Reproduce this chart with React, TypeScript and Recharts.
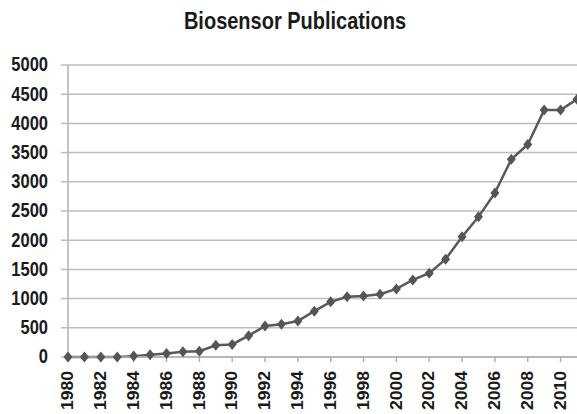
import React from 'react';
import { LineChart, Line, XAxis, YAxis, CartesianGrid } from 'recharts';

const years = [
  1980, 1981, 1982, 1983, 1984, 1985, 1986, 1987, 1988, 1989, 1990, 1991, 1992, 1993, 1994, 1995,
  1996, 1997, 1998, 1999, 2000, 2001, 2002, 2003, 2004, 2005, 2006, 2007, 2008, 2009, 2010, 2011,
];
const publications = [
  0, 0, 0, 0, 15, 40, 60, 90, 100, 200, 215, 365, 530, 560, 615, 785,
  945, 1030, 1045, 1075, 1165, 1320, 1435, 1675, 2060, 2400, 2810, 3385, 3640, 4230, 4230, 4415,
];
const yearTicks = [1980, 1982, 1984, 1986, 1988, 1990, 1992, 1994, 1996, 1998, 2000, 2002, 2004, 2006, 2008, 2010];
const valueTicks = [0, 500, 1000, 1500, 2000, 2500, 3000, 3500, 4000, 4500, 5000];

const data = years.map((year, i) => ({ year, count: publications[i] }));

const FONT = '"Liberation Sans", Arial, sans-serif';
const STRETCH = 1.19;

const YTick = (props: any) => {
  const { y, payload } = props;
  return (
    <text
      transform={`translate(48,${y}) scale(1,${STRETCH})`}
      textAnchor="end"
      dominantBaseline="central"
      fontFamily={FONT}
      fontWeight="bold"
      fontSize={16.5}
      fill="#1a1a1a"
    >
      {payload.value}
    </text>
  );
};

// rotated year labels, squeezed a little so they stay inside the picture
const XTick = (props: any) => {
  const { x, payload } = props;
  return (
    <g transform={`translate(${x},371) scale(1,1.1)`}>
      <text
        transform="rotate(-90)"
        textAnchor="end"
        dominantBaseline="central"
        fontFamily={FONT}
        fontWeight="bold"
        fontSize={16}
        fill="#1a1a1a"
      >
        {payload.value}
      </text>
    </g>
  );
};

const Diamond = (props: any) => {
  const { cx, cy } = props;
  if (cx == null || cy == null) return null;
  return (
    <polygon
      points={`${cx},${cy - 5.5} ${cx + 4.5},${cy} ${cx},${cy + 5.5} ${cx - 4.5},${cy}`}
      fill="#555555"
    />
  );
};

export default function App() {
  return (
    <div style={{ position: 'relative', width: 577, height: 414, background: '#fff' }}>
      <style>{`body{margin:0}`}</style>
      <svg width={577} height={40} style={{ position: 'absolute', left: 0, top: 0 }}>
        <text
          transform={`translate(295,29) scale(1,${STRETCH})`}
          textAnchor="middle"
          fontFamily={FONT}
          fontWeight="bold"
          fontSize={20}
          fill="#1a1a1a"
        >
          Biosensor Publications
        </text>
      </svg>
      <div style={{ position: 'absolute', left: 0, top: 0 }}>
        <LineChart width={577} height={414} data={data} margin={{ top: 65, right: 0, bottom: 0, left: 0 }}>
          <CartesianGrid vertical={false} stroke="#bdbdbd" strokeWidth={1.5} />
          <XAxis
            type="number"
            dataKey="year"
            domain={[1980, 2011]}
            ticks={yearTicks}
            interval={0}
            height={57}
            axisLine={{ stroke: '#b0b0b0', strokeWidth: 1.5 }}
            tickLine={{ stroke: '#b0b0b0', strokeWidth: 1.5 }}
            tickSize={5}
            tick={<XTick />}
          />
          <YAxis
            domain={[0, 5000]}
            ticks={valueTicks}
            interval={0}
            width={68}
            axisLine={{ stroke: '#b0b0b0', strokeWidth: 1.5 }}
            tickLine={{ stroke: '#bdbdbd', strokeWidth: 1.5 }}
            tickSize={7}
            tick={<YTick />}
          />
          <Line
            type="linear"
            dataKey="count"
            stroke="#595959"
            strokeWidth={2.5}
            dot={<Diamond />}
            activeDot={false}
            isAnimationActive={false}
          />
        </LineChart>
      </div>
    </div>
  );
}
